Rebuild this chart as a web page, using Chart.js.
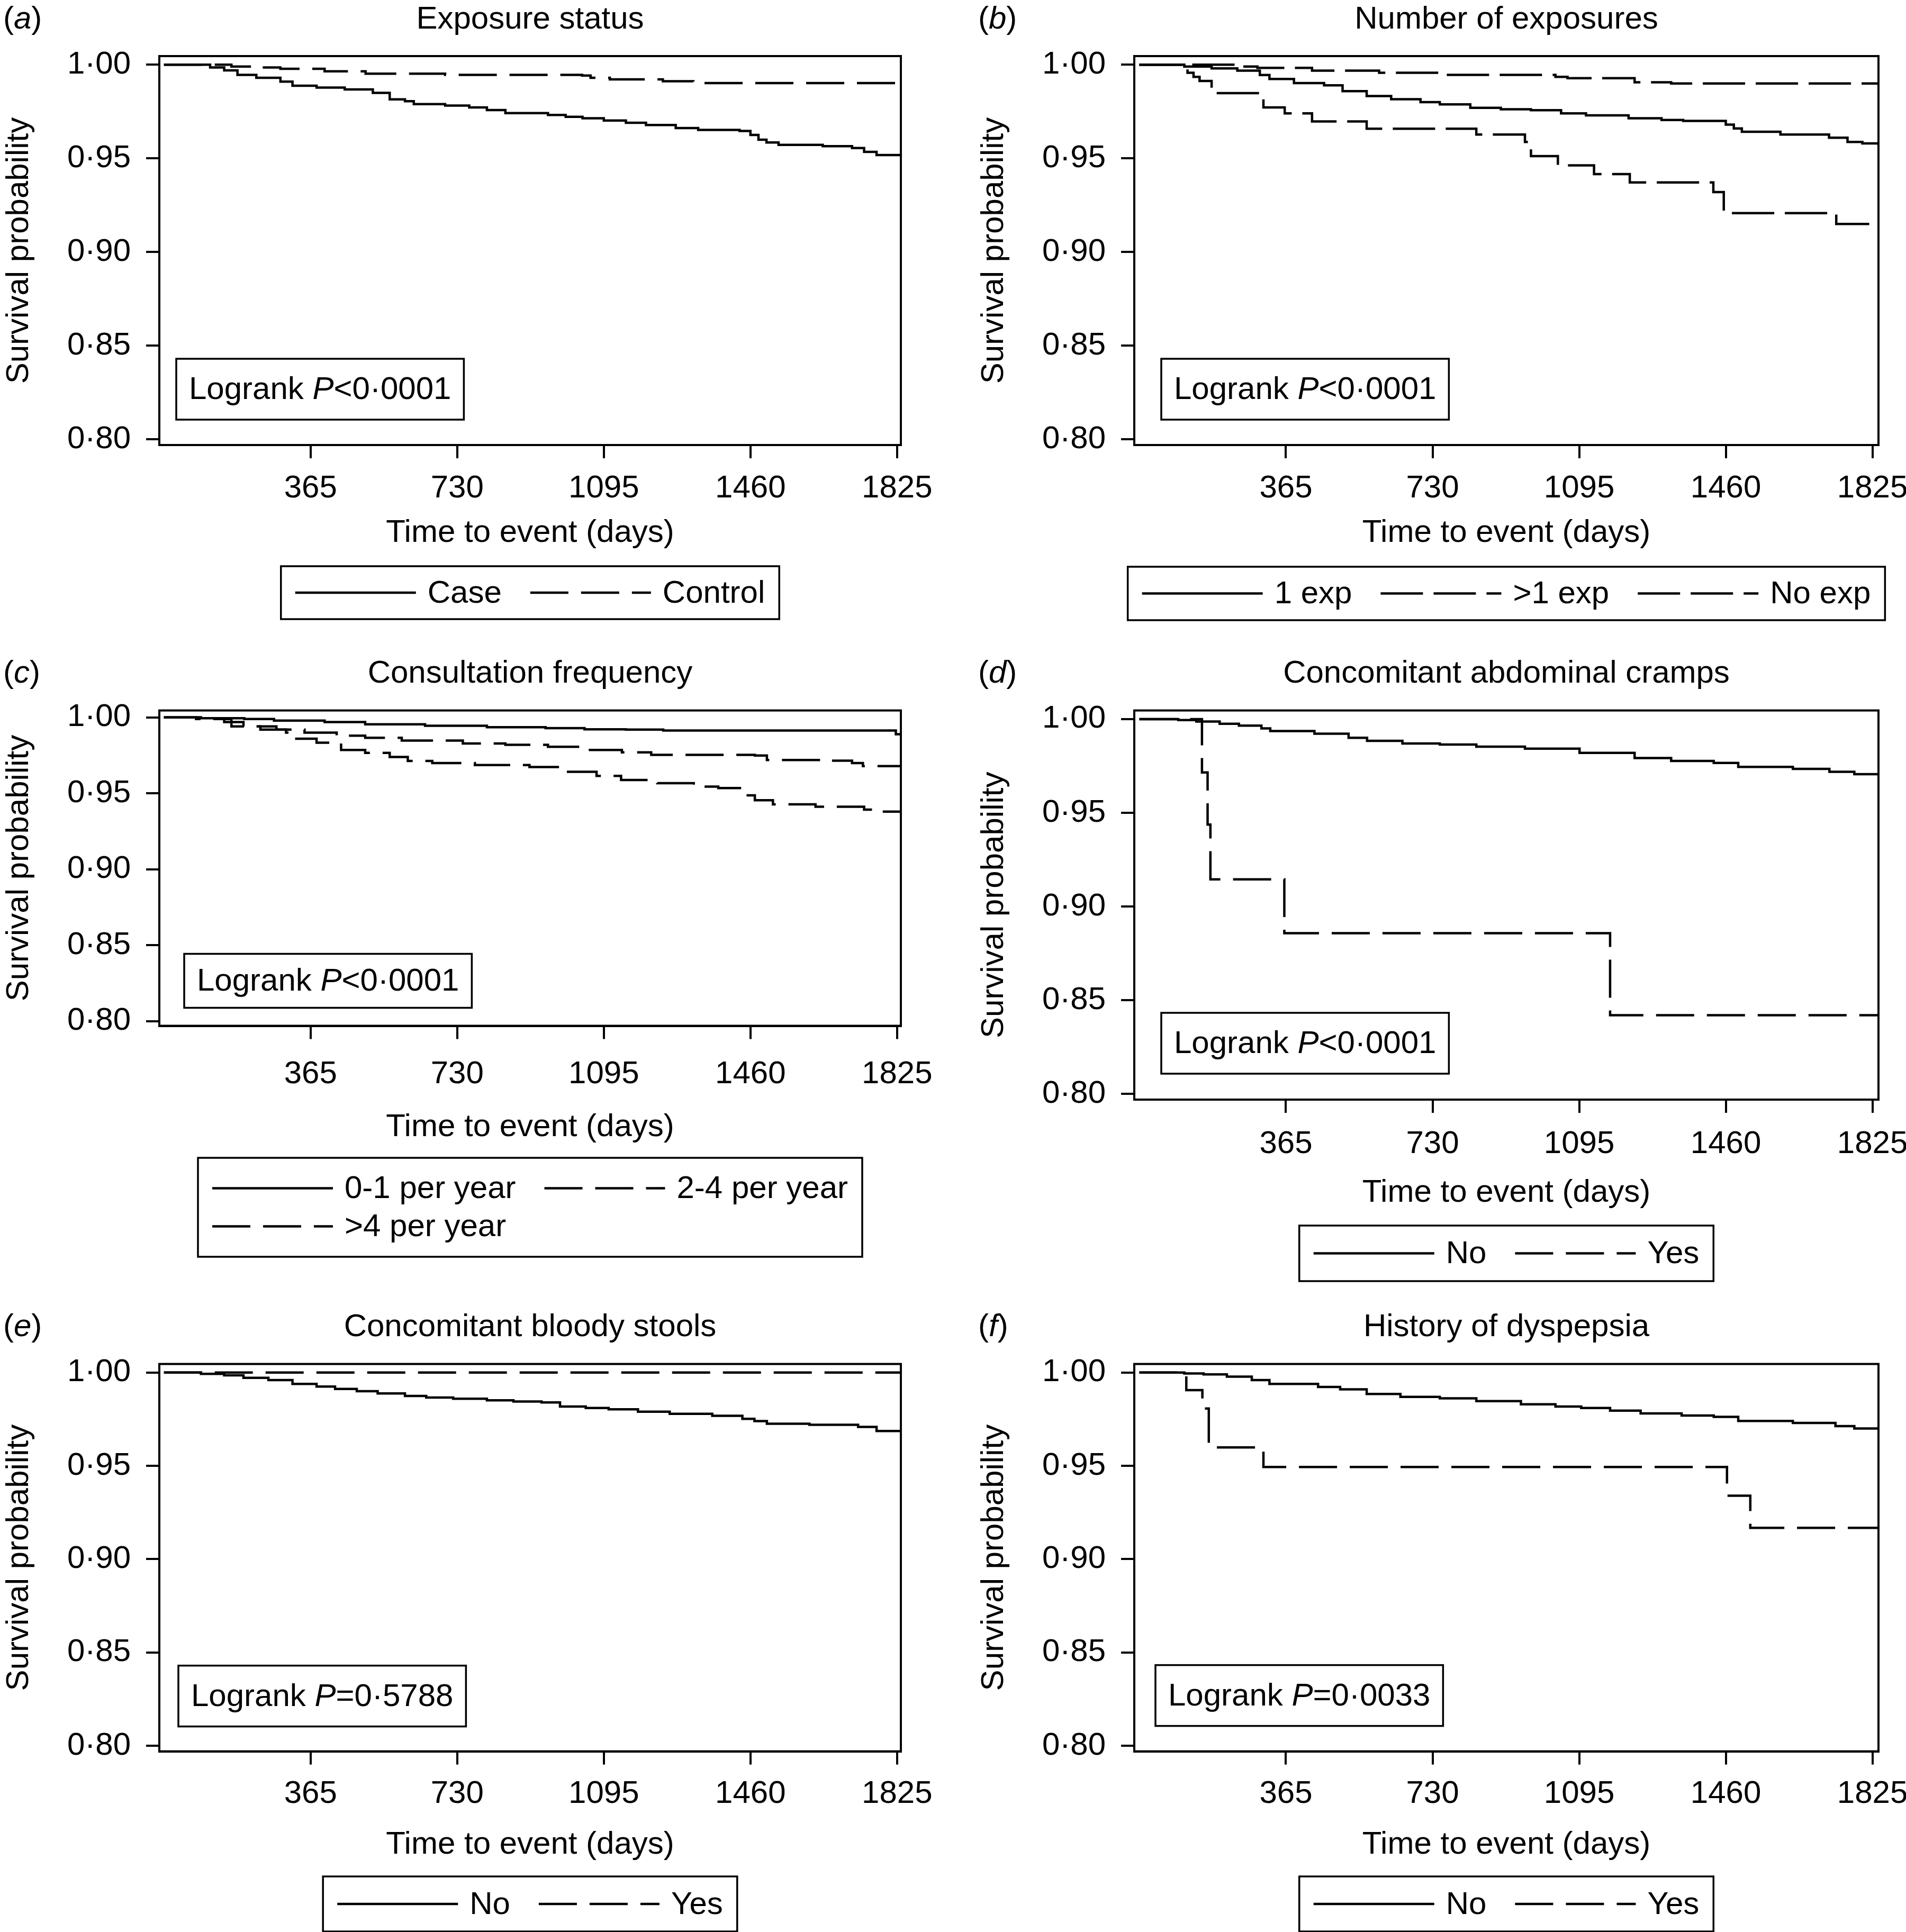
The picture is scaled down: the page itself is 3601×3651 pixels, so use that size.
<!DOCTYPE html>
<html>
<head>
<meta charset="utf-8">
<script src="https://cdn.jsdelivr.net/npm/chart.js@4.4.1/dist/chart.umd.min.js"></script>
<style>
  html, body { margin: 0; padding: 0; background: #fff; overflow: hidden; }
  body { width: 3601px; height: 3651px; position: relative; }
  canvas { position: absolute; }
</style>
</head>
<body>
<canvas id="pa"></canvas>
<canvas id="pb"></canvas>
<canvas id="pc"></canvas>
<canvas id="pd"></canvas>
<canvas id="pe"></canvas>
<canvas id="pf"></canvas>
<script>
// ---- tick labels ----
const xTicks = [365, 730, 1095, 1460, 1825];
const yTicks = [0.80, 0.85, 0.90, 0.95, 1.00];

// ---- (a) Exposure status ----
const aCaseDays = [0, 115, 150, 183, 230, 290, 320, 380, 450, 520, 562, 600, 622, 700, 760, 804, 850, 956, 1000, 1042, 1095, 1150, 1200, 1274, 1330, 1433, 1460, 1480, 1500, 1530, 1640, 1713, 1743, 1774, 1840];
const aCaseSurv = [1, 0.9985, 0.997, 0.9946, 0.993, 0.991, 0.9888, 0.9878, 0.9868, 0.985, 0.9815, 0.9805, 0.979, 0.9782, 0.9772, 0.9758, 0.9742, 0.9732, 0.9722, 0.9714, 0.9702, 0.969, 0.9678, 0.9662, 0.9652, 0.9646, 0.9625, 0.960, 0.9585, 0.9572, 0.9565, 0.9555, 0.9535, 0.9518, 0.9508];
const aCtrlDays = [0, 168, 230, 290, 400, 502, 700, 1041, 1062, 1110, 1242, 1318, 1840];
const aCtrlSurv = [1, 0.999, 0.9985, 0.9978, 0.9965, 0.9952, 0.9946, 0.9942, 0.993, 0.9922, 0.9912, 0.9902, 0.9902];

// ---- (b) Number of exposures ----
const bOneDays = [0, 112, 180, 244, 300, 324, 385, 460, 506, 566, 627, 700, 748, 824, 900, 975, 1050, 1112, 1218, 1300, 1354, 1460, 1480, 1500, 1596, 1717, 1763, 1800, 1840];
const bOneSurv = [1, 0.999, 0.998, 0.9968, 0.9945, 0.9924, 0.9902, 0.989, 0.9859, 0.9833, 0.9816, 0.980, 0.9788, 0.977, 0.9762, 0.9757, 0.974, 0.973, 0.9714, 0.9705, 0.970, 0.968, 0.966, 0.9642, 0.9627, 0.961, 0.9588, 0.958, 0.957];
const bMultDays = [0, 120, 135, 150, 180, 301, 309, 362, 430, 566, 839, 960, 975, 1042, 1132, 1221, 1429, 1455, 1735, 1840];
const bMultSurv = [1, 0.9957, 0.9935, 0.9913, 0.9848, 0.9827, 0.9772, 0.974, 0.9697, 0.9658, 0.9627, 0.9588, 0.9512, 0.9463, 0.9416, 0.9372, 0.932, 0.9208, 0.915, 0.915];
const bNoneDays = [0, 248, 294, 430, 597, 748, 1036, 1066, 1233, 1324, 1840];
const bNoneSurv = [1, 0.999, 0.9983, 0.9968, 0.9957, 0.9946, 0.9935, 0.9928, 0.9906, 0.990, 0.990];

// ---- (c) Consultation frequency ----
const cLowDays = [0, 92, 200, 274, 400, 501, 650, 804, 950, 1047, 1150, 1243, 1822, 1840];
const cLowSurv = [1, 0.9995, 0.999, 0.9979, 0.997, 0.9955, 0.9945, 0.9936, 0.993, 0.9922, 0.992, 0.9914, 0.989, 0.989];
const cMidDays = [0, 92, 150, 198, 280, 350, 430, 501, 592, 744, 850, 956, 1047, 1140, 1213, 1471, 1501, 1650, 1713, 1740, 1840];
const cMidSurv = [1, 0.999, 0.997, 0.9941, 0.992, 0.990, 0.988, 0.9866, 0.9848, 0.9829, 0.982, 0.9807, 0.9786, 0.977, 0.9754, 0.9749, 0.972, 0.9715, 0.970, 0.968, 0.968];
const cHighDays = [0, 80, 168, 240, 304, 320, 380, 441, 501, 562, 607, 668, 774, 910, 986, 1077, 1138, 1228, 1319, 1380, 1440, 1471, 1516, 1622, 1743, 1780, 1840];
const cHighSurv = [1, 0.999, 0.9941, 0.992, 0.990, 0.986, 0.9834, 0.9786, 0.9767, 0.974, 0.9714, 0.970, 0.9687, 0.9674, 0.9642, 0.9615, 0.9588, 0.9567, 0.9545, 0.9535, 0.9487, 0.9455, 0.9428, 0.9412, 0.9393, 0.938, 0.938];

// ---- (d) Concomitant abdominal cramps ----
const dNoDays = [0, 97, 142, 200, 248, 304, 326, 436, 521, 567, 655, 748, 839, 960, 1096, 1233, 1324, 1430, 1491, 1627, 1718, 1780, 1840];
const dNoSurv = [1, 0.9995, 0.9987, 0.9975, 0.9965, 0.995, 0.9936, 0.9922, 0.990, 0.9884, 0.987, 0.9864, 0.9853, 0.9842, 0.982, 0.9792, 0.9777, 0.9766, 0.9745, 0.9734, 0.9719, 0.9706, 0.970];
const dYesDays = [0, 156, 170, 177, 361, 1172, 1840];
const dYesSurv = [1, 0.9715, 0.9437, 0.9145, 0.8858, 0.842, 0.842];

// ---- (e) Concomitant bloody stools ----
const eNoDays = [0, 92, 150, 198, 260, 320, 380, 426, 480, 532, 600, 653, 720, 804, 870, 940, 986, 1050, 1107, 1180, 1259, 1365, 1440, 1470, 1501, 1607, 1728, 1774, 1840];
const eNoSurv = [1, 0.9993, 0.9985, 0.9972, 0.996, 0.9939, 0.9925, 0.9912, 0.990, 0.9888, 0.9875, 0.9866, 0.986, 0.9851, 0.9845, 0.984, 0.9818, 0.981, 0.9803, 0.979, 0.9779, 0.9768, 0.9752, 0.974, 0.9726, 0.972, 0.9709, 0.9687, 0.9687];
const eYesDays = [0, 1840];
const eYesSurv = [1, 1];

// ---- (f) History of dyspepsia ----
const fNoDays = [0, 112, 160, 218, 280, 324, 445, 500, 566, 650, 748, 839, 950, 1036, 1100, 1172, 1248, 1350, 1430, 1491, 1627, 1733, 1780, 1840];
const fNoSurv = [1, 0.9995, 0.999, 0.9978, 0.996, 0.9939, 0.9923, 0.991, 0.9885, 0.987, 0.9862, 0.9847, 0.983, 0.9818, 0.981, 0.9796, 0.9781, 0.977, 0.9763, 0.9741, 0.973, 0.9713, 0.970, 0.970];
const fYesDays = [0, 117, 157, 173, 309, 1463, 1521, 1840];
const fYesSurv = [1, 0.9906, 0.9807, 0.9599, 0.9494, 0.934, 0.9168, 0.9168];

const FONT_FAMILY = "'Liberation Sans', Arial, Helvetica, sans-serif";
const FS = 60;
const LW = 4.5;
const DASH = [72, 24];
const DASH_B = [80, 20];

function serie(label, days, surv, dash) {
    return { label: label, days: days, surv: surv, dash: dash };
}

const panels = [
    { id: 'pa', letter: 'a', title: 'Exposure status', left: 0, top: 0, h: 1220,
      area: { left: 301, right: 1702, top: 106, bottom: 841 }, xMin: -11.5, xMax: 1834.5,
      xAxisH: 202, xPad: 21, pText: '<0·0001', pBox: { dx: 32, dy: 48, h: 115 },
      legend: { top: 1070, h: 100, cols: 2 },
      series: [serie('Case', aCaseDays, aCaseSurv, []), serie('Control', aCtrlDays, aCtrlSurv, DASH)] },
    { id: 'pb', letter: 'b', title: 'Number of exposures', left: 1842, top: 0, h: 1220,
      area: { left: 301, right: 1707, top: 106, bottom: 841 }, xMin: -12.5, xMax: 1840.1,
      xAxisH: 202, xPad: 21, pText: '<0·0001', pBox: { dx: 51, dy: 48, h: 115 },
      legend: { top: 1071, h: 101, cols: 3 },
      series: [serie('1 exp', bOneDays, bOneSurv, []), serie('>1 exp', bMultDays, bMultSurv, DASH_B), serie('No exp', bNoneDays, bNoneSurv, DASH_B)] },
    { id: 'pc', letter: 'c', title: 'Consultation frequency', left: 0, top: 1220, h: 1220,
      area: { left: 301, right: 1702, top: 122.6, bottom: 718.5 }, xMin: -11.5, xMax: 1834.5,
      xAxisH: 228, xPad: 31, pText: '<0·0001', pBox: { dx: 47, dy: 34, h: 102 },
      legend: { top: 968, h: 187, cols: 2 },
      series: [serie('0-1 per year', cLowDays, cLowSurv, []), serie('2-4 per year', cMidDays, cMidSurv, DASH), serie('>4 per year', cHighDays, cHighSurv, DASH)] },
    { id: 'pd', letter: 'd', title: 'Concomitant abdominal cramps', left: 1842, top: 1220, h: 1220,
      area: { left: 301, right: 1707, top: 122.6, bottom: 858 }, xMin: -12.5, xMax: 1840.1,
      xAxisH: 212, xPad: 23, pText: '<0·0001', pBox: { dx: 51, dy: 49, h: 115 },
      legend: { top: 1096, h: 105, cols: 2 },
      series: [serie('No', dNoDays, dNoSurv, []), serie('Yes', dYesDays, dYesSurv, DASH)] },
    { id: 'pe', letter: 'e', title: 'Concomitant bloody stools', left: 0, top: 2440, h: 1211,
      area: { left: 301, right: 1702, top: 137.6, bottom: 869.6 }, xMin: -11.5, xMax: 1834.5,
      xAxisH: 213, xPad: 20, pText: '=0·5788', pBox: { dx: 36, dy: 47, h: 115 },
      legend: { top: 1106, h: 104, cols: 2 },
      series: [serie('No', eNoDays, eNoSurv, []), serie('Yes', eYesDays, eYesSurv, DASH)] },
    { id: 'pf', letter: 'f', title: 'History of dyspepsia', left: 1842, top: 2440, h: 1211,
      area: { left: 301, right: 1707, top: 137.6, bottom: 869.6 }, xMin: -12.5, xMax: 1840.1,
      xAxisH: 213, xPad: 20, pText: '=0·0033', pBox: { dx: 40, dy: 48, h: 115 },
      legend: { top: 1106, h: 104, cols: 2 },
      series: [serie('No', fNoDays, fNoSurv, []), serie('Yes', fYesDays, fYesSurv, DASH)] },
];

const CANVAS_W = 1840;

function font(italic) {
    return (italic ? 'italic ' : '') + FS + 'px ' + FONT_FAMILY;
}

// draws a list of text runs (some italic) starting at x, returns the end x
function drawRuns(ctx, runs, x, y) {
    runs.forEach(r => {
        ctx.font = font(r.italic);
        ctx.fillText(r.t, x, y);
        x += ctx.measureText(r.t).width;
    });
    return x;
}
function runsWidth(ctx, runs) {
    let w = 0;
    runs.forEach(r => { ctx.font = font(r.italic); w += ctx.measureText(r.t).width; });
    return w;
}

// frame, panel title, logrank box and legend box
const panelDecor = {
    id: 'panelDecor',
    afterDraw(chart, args, opts) {
        const ctx = chart.ctx;
        const ca = chart.chartArea;
        const cx = (ca.left + ca.right) / 2;
        ctx.save();
        ctx.strokeStyle = '#000';
        ctx.fillStyle = '#000';
        ctx.lineWidth = 4;
        ctx.setLineDash([]);
        ctx.strokeRect(ca.left, ca.top, ca.right - ca.left, ca.bottom - ca.top);

        ctx.textBaseline = 'middle';
        const ty = ca.top - 69;
        ctx.textAlign = 'center';
        ctx.font = font(false);
        ctx.fillText(opts.title, cx, ty);
        ctx.textAlign = 'left';
        drawRuns(ctx, [{ t: '(' }, { t: opts.letter, italic: true }, { t: ')' }], 6, ty);

        // logrank annotation
        const runs = [{ t: 'Logrank ' }, { t: 'P', italic: true }, { t: opts.pText }];
        const pw = runsWidth(ctx, runs) + 48;
        const px = ca.left + opts.pBox.dx;
        const py = ca.bottom - opts.pBox.dy - opts.pBox.h;
        ctx.lineWidth = 3.5;
        ctx.strokeRect(px, py, pw, opts.pBox.h);
        drawRuns(ctx, runs, px + 24, py + opts.pBox.h / 2 + 2);

        // legend
        const SAMPLE = 228, GAP = 22, COLGAP = 54, PAD = 27, ROWH = 72;
        const items = chart.data.datasets.map(d => ({ label: d.label, dash: d.borderDash || [] }));
        const cols = opts.legend.cols;
        const rows = Math.ceil(items.length / cols);
        ctx.font = font(false);
        const colW = [];
        items.forEach((it, i) => {
            const c = i % cols;
            const w = SAMPLE + GAP + ctx.measureText(it.label).width;
            colW[c] = Math.max(colW[c] || 0, w);
        });
        const boxW = colW.reduce((a, b) => a + b, 0) + COLGAP * (cols - 1) + 2 * PAD;
        const bx = cx - boxW / 2;
        const by = opts.legend.top;
        const bh = opts.legend.h;
        ctx.strokeRect(bx, by, boxW, bh);
        items.forEach((it, i) => {
            const c = i % cols;
            const r = Math.floor(i / cols);
            let x = bx + PAD + COLGAP * c;
            for (let k = 0; k < c; k++) x += colW[k];
            const y = by + bh / 2 + (r - (rows - 1) / 2) * ROWH;
            ctx.lineWidth = LW;
            ctx.setLineDash(it.dash);
            ctx.beginPath();
            ctx.moveTo(x, y);
            ctx.lineTo(x + SAMPLE, y);
            ctx.stroke();
            ctx.setLineDash([]);
            ctx.font = font(false);
            ctx.fillText(it.label, x + SAMPLE + GAP, y + 2);
        });
        ctx.restore();
    }
};

function makeChart(p) {
    const cv = document.getElementById(p.id);
    cv.width = CANVAS_W;
    cv.height = p.h;
    cv.style.left = p.left + 'px';
    cv.style.top = p.top + 'px';

    const datasets = p.series.map(s => ({
        label: s.label,
        data: s.days.map((d, i) => ({ x: d, y: s.surv[i] })),
        stepped: 'before',
        borderColor: '#000',
        borderWidth: LW,
        borderDash: s.dash,
        pointRadius: 0,
        fill: false,
    }));

    const axisFont = { family: FONT_FAMILY, size: FS };

    new Chart(cv, {
        type: 'line',
        data: { datasets: datasets },
        options: {
            responsive: false,
            animation: false,
            devicePixelRatio: 1,
            layout: {
                padding: {
                    left: 0,
                    top: p.area.top,
                    right: CANVAS_W - p.area.right,
                    bottom: p.h - (p.area.bottom + p.xAxisH),
                },
            },
            plugins: {
                legend: { display: false },
                tooltip: { enabled: false },
                panelDecor: { title: p.title, letter: p.letter, pText: p.pText, pBox: p.pBox, legend: p.legend },
            },
            scales: {
                x: {
                    type: 'linear',
                    min: p.xMin,
                    max: p.xMax,
                    afterBuildTicks: s => { s.ticks = xTicks.map(v => ({ value: v })); },
                    afterFit: s => { s.height = p.xAxisH; },
                    ticks: { font: axisFont, color: '#000', padding: p.xPad, maxRotation: 0, autoSkip: false, callback: v => String(v) },
                    grid: { drawOnChartArea: false, drawTicks: true, tickLength: 25, color: '#000', lineWidth: 4 },
                    border: { display: true, color: '#000', width: 4 },
                    title: { display: true, text: 'Time to event (days)', font: axisFont, color: '#000', padding: 0 },
                },
                y: {
                    type: 'linear',
                    min: 0.797,
                    max: 1.0046,
                    afterBuildTicks: s => { s.ticks = yTicks.map(v => ({ value: v })); },
                    afterFit: s => { s.width = p.area.left; },
                    ticks: { font: axisFont, color: '#000', padding: 29, autoSkip: false, callback: v => v.toFixed(2).replace('.', '·') },
                    grid: { drawOnChartArea: false, drawTicks: true, tickLength: 25, color: '#000', lineWidth: 4 },
                    border: { display: true, color: '#000', width: 4 },
                    title: { display: true, text: 'Survival probability', font: axisFont, color: '#000', padding: 0 },
                },
            },
        },
        plugins: [panelDecor],
    });
}

panels.forEach(makeChart);
</script>
</body>
</html>
